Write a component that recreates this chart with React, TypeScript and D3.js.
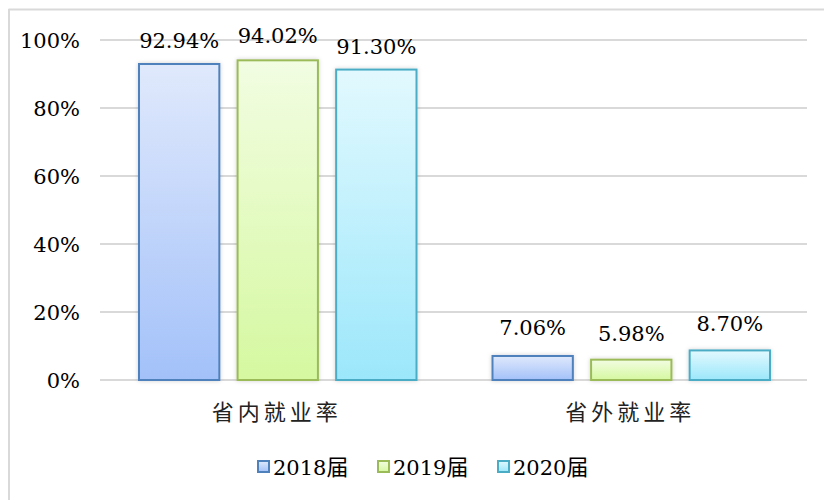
import React from "react";
import * as d3 from "d3";

const categories = ["省内就业率", "省外就业率"];
const seriesNames = ["2018届", "2019届", "2020届"];
const values2018 = [92.94, 7.06];
const values2019 = [94.02, 5.98];
const values2020 = [91.3, 8.7];
const valueLabels2018 = ["92.94%", "7.06%"];
const valueLabels2019 = ["94.02%", "5.98%"];
const valueLabels2020 = ["91.30%", "8.70%"];
const yTicks = [0, 20, 40, 60, 80, 100];
const yTickLabels = ["0%", "20%", "40%", "60%", "80%", "100%"];

const seriesValues = [values2018, values2019, values2020];
const seriesLabels = [valueLabels2018, valueLabels2019, valueLabels2020];
const strokes = ["#4f81bd", "#9bbb59", "#4bacc6"];
const topColors = ["#e0e9fc", "#f2fde2", "#e2f9fe"];
const bottomColors = ["#a3c1f9", "#d5f8a0", "#9ce7fb"];

export default function App() {
  const W = 824, H = 500;
  const left = 100, right = 807, top = 40, bottom = 380;
  const x0 = d3.scaleBand<string>().domain(categories).range([left, right]).paddingInner(0).paddingOuter(0);
  const x1 = d3.scaleBand<string>().domain(seriesNames).range([39, x0.bandwidth() - 37]).paddingInner(0.185).paddingOuter(0);
  const y = d3.scaleLinear().domain([0, 100]).range([bottom, top]);
  const numStyle = { fontFamily: "'DejaVu Serif', serif" };
  const cjkStyle = { fontFamily: "'Noto Sans CJK SC', sans-serif" };
  const labelOffsets = [[-16, -21], [-17, -19], [-16, -19]];

  return (
    <svg width={W} height={H} style={{ position: "absolute", left: 0, top: 0, background: "#fff" }}>
      <defs>
        {seriesNames.map((s, i) => (
          <linearGradient key={s} id={`g${i}`} x1="0" y1="0" x2="0" y2="1">
            <stop offset="0%" stopColor={topColors[i]} />
            <stop offset="100%" stopColor={bottomColors[i]} />
          </linearGradient>
        ))}
        <filter id="sh" x="-20%" y="-20%" width="140%" height="140%">
          <feDropShadow dx="0" dy="0" stdDeviation="2" floodColor="#000" floodOpacity="0.18" />
        </filter>
      </defs>
      <rect x={0} y={0} width={W} height={H} fill="#fff" />
      <line x1={8.5} x2={W} y1={9.5} y2={9.5} stroke="#d9d9d9" strokeWidth={2} />
      <line x1={9} x2={9} y1={9} y2={H} stroke="#d9d9d9" strokeWidth={2} />
      {yTicks.map((t, i) => (
        <g key={t}>
          <line x1={left} x2={right} y1={y(t)} y2={y(t)} stroke="#d9d9d9" strokeWidth={2} />
          <text x={80} y={y(t) + 8} textAnchor="end" style={numStyle} fontSize={21} fill="#000">
            {yTickLabels[i]}
          </text>
        </g>
      ))}
      {categories.map((c, ci) => (
        <g key={c} transform={`translate(${x0(c)},0)`}>
          {seriesNames.map((s, si) => {
            const v = seriesValues[si][ci];
            const bx = x1(s)!;
            const bw = x1.bandwidth();
            return (
              <g key={s}>
                <rect x={bx} y={y(v)} width={bw} height={bottom - y(v)} fill={`url(#g${si})`}
                  stroke={strokes[si]} strokeWidth={2} filter="url(#sh)" />
                <text x={bx + bw / 2} y={y(v) + labelOffsets[si][ci]} textAnchor="middle" style={numStyle} fontSize={21}
                  fill="#000">
                  {seriesLabels[si][ci]}
                </text>
              </g>
            );
          })}
          <text x={x0.bandwidth() / 2} y={420} textAnchor="middle" style={cjkStyle} fontSize={22}
            letterSpacing={4} fill="#222">
            {c}
          </text>
        </g>
      ))}
      {seriesNames.map((s, si) => {
        const lx = 258 + si * 120;
        return (
          <g key={s}>
            <rect x={lx} y={461} width={11} height={11} fill={`url(#g${si})`} stroke={strokes[si]} strokeWidth={2} />
            <text x={lx + 15} y={475} style={numStyle} fontSize={21} fill="#000">
              {s.slice(0, 4)}
              <tspan style={cjkStyle} fontSize={22}>{s.slice(4)}</tspan>
            </text>
          </g>
        );
      })}
    </svg>
  );
}
